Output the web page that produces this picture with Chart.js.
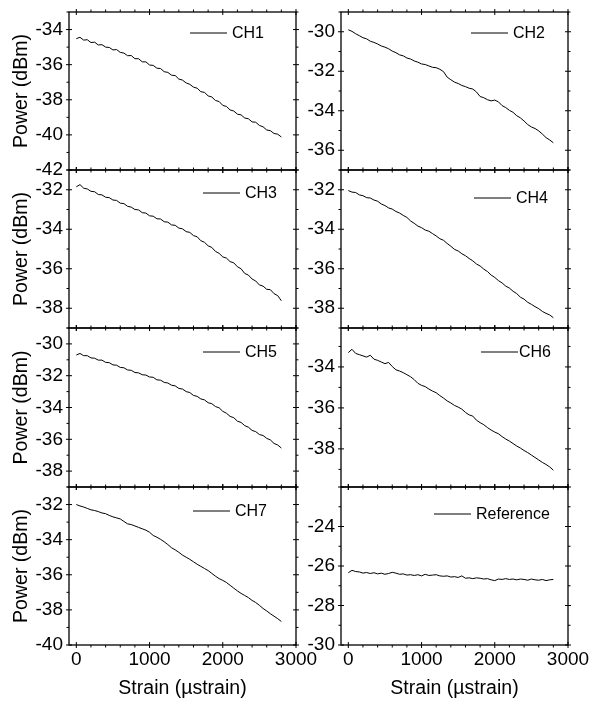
<!DOCTYPE html>
<html>
<head>
<meta charset="utf-8">
<script src="https://cdn.jsdelivr.net/npm/chart.js@4"></script>
<style>
  body { margin: 0; background: #fff; }
  #wrap { position: relative; width: 589px; height: 705px; overflow: hidden; }
  canvas { position: absolute; }
</style>
</head>
<body>
<div id="wrap"></div>
<script>
// strain in microstrain
const strain = [0,50,100,150,200,250,300,350,400,450,500,550,600,650,700,750,800,850,900,950,
  1000,1050,1100,1150,1200,1250,1300,1350,1400,1450,1500,1550,1600,1650,1700,1750,1800,1850,1900,1950,
  2000,2050,2100,2150,2200,2250,2300,2350,2400,2450,2500,2550,2600,2650,2700,2750,2800];

const ch1 = [-34.52,-34.44,-34.60,-34.58,-34.74,-34.72,-34.88,-34.86,-35.00,-35.02,-35.16,-35.14,-35.30,-35.34,-35.49,-35.48,-35.66,-35.66,-35.84,-35.84,
  -36.02,-36.04,-36.20,-36.22,-36.40,-36.44,-36.60,-36.62,-36.82,-36.88,-37.04,-37.12,-37.28,-37.34,-37.54,-37.58,-37.78,-37.84,-38.04,-38.10,
  -38.32,-38.38,-38.58,-38.64,-38.82,-38.86,-39.04,-39.08,-39.26,-39.28,-39.46,-39.54,-39.72,-39.76,-39.92,-39.96,-40.12];
const ch2 = [-29.90,-29.98,-30.10,-30.20,-30.30,-30.36,-30.48,-30.54,-30.62,-30.72,-30.78,-30.86,-30.98,-31.06,-31.17,-31.22,-31.33,-31.38,-31.48,-31.54,
  -31.63,-31.66,-31.73,-31.80,-31.82,-31.90,-32.02,-32.30,-32.43,-32.55,-32.62,-32.72,-32.78,-32.86,-32.90,-33.05,-33.28,-33.34,-33.44,-33.50,
  -33.46,-33.55,-33.74,-33.84,-33.98,-34.08,-34.25,-34.36,-34.52,-34.70,-34.82,-34.90,-35.02,-35.18,-35.36,-35.48,-35.62];
const ch3 = [-31.85,-31.74,-31.92,-31.96,-32.08,-32.10,-32.24,-32.26,-32.38,-32.40,-32.52,-32.54,-32.68,-32.70,-32.84,-32.88,-33.00,-33.02,-33.16,-33.18,
  -33.32,-33.34,-33.47,-33.48,-33.62,-33.64,-33.78,-33.80,-33.94,-33.98,-34.12,-34.16,-34.32,-34.38,-34.58,-34.66,-34.84,-34.92,-35.12,-35.22,
  -35.40,-35.46,-35.64,-35.70,-35.90,-36.00,-36.24,-36.32,-36.52,-36.62,-36.82,-36.88,-37.04,-37.06,-37.26,-37.36,-37.62];
const ch4 = [-32.04,-32.12,-32.14,-32.26,-32.30,-32.40,-32.42,-32.52,-32.58,-32.72,-32.80,-32.92,-32.98,-33.10,-33.18,-33.30,-33.40,-33.58,-33.70,-33.84,
  -33.92,-34.04,-34.10,-34.22,-34.34,-34.48,-34.56,-34.72,-34.86,-35.02,-35.10,-35.24,-35.34,-35.48,-35.60,-35.76,-35.86,-36.02,-36.14,-36.32,
  -36.44,-36.60,-36.72,-36.88,-36.98,-37.14,-37.26,-37.44,-37.54,-37.70,-37.80,-37.92,-38.02,-38.16,-38.26,-38.34,-38.48];
const ch5 = [-30.70,-30.60,-30.74,-30.74,-30.88,-30.90,-31.02,-31.02,-31.16,-31.18,-31.32,-31.34,-31.48,-31.50,-31.64,-31.66,-31.80,-31.82,-31.94,-31.96,
  -32.08,-32.10,-32.26,-32.28,-32.42,-32.46,-32.60,-32.64,-32.80,-32.84,-33.00,-33.06,-33.24,-33.30,-33.46,-33.52,-33.70,-33.76,-33.94,-34.02,
  -34.24,-34.36,-34.56,-34.64,-34.86,-34.94,-35.14,-35.24,-35.44,-35.52,-35.70,-35.76,-35.94,-36.04,-36.26,-36.36,-36.55];
const ch6 = [-33.30,-33.14,-33.34,-33.40,-33.46,-33.52,-33.43,-33.62,-33.68,-33.76,-33.84,-33.78,-33.98,-34.14,-34.20,-34.28,-34.38,-34.48,-34.62,-34.80,
  -34.90,-34.96,-35.08,-35.18,-35.26,-35.40,-35.52,-35.66,-35.76,-35.88,-35.96,-36.06,-36.22,-36.34,-36.40,-36.60,-36.72,-36.82,-36.96,-37.08,
  -37.18,-37.26,-37.40,-37.52,-37.62,-37.74,-37.86,-37.96,-38.08,-38.18,-38.30,-38.42,-38.54,-38.66,-38.76,-38.88,-39.04];
const ch7 = [-32.00,-32.08,-32.14,-32.22,-32.30,-32.34,-32.40,-32.48,-32.52,-32.62,-32.70,-32.76,-32.82,-32.96,-33.10,-33.14,-33.22,-33.30,-33.38,-33.46,
  -33.58,-33.76,-33.86,-33.98,-34.12,-34.28,-34.46,-34.58,-34.72,-34.88,-35.00,-35.12,-35.26,-35.40,-35.52,-35.64,-35.76,-35.92,-36.08,-36.22,
  -36.32,-36.44,-36.60,-36.76,-36.92,-37.06,-37.18,-37.30,-37.46,-37.58,-37.74,-37.92,-38.06,-38.22,-38.36,-38.50,-38.66];
const reference = [-26.34,-26.22,-26.28,-26.30,-26.36,-26.33,-26.38,-26.34,-26.40,-26.36,-26.42,-26.38,-26.32,-26.36,-26.42,-26.40,-26.46,-26.44,-26.48,-26.44,
  -26.50,-26.42,-26.48,-26.46,-26.44,-26.50,-26.52,-26.50,-26.56,-26.54,-26.58,-26.50,-26.62,-26.60,-26.64,-26.60,-26.62,-26.66,-26.64,-26.70,
  -26.74,-26.66,-26.68,-26.64,-26.68,-26.66,-26.70,-26.66,-26.68,-26.72,-26.66,-26.70,-26.72,-26.68,-26.74,-26.70,-26.68];

const xTicks = [0, 1000, 2000, 3000];
const xMinorStep = 200;

// one entry per panel: label, series, y range, labelled y ticks
const panels = [
  { label: 'CH1', data: ch1, yMin: -42, yMax: -33, yTicks: [-42, -40, -38, -36, -34] },
  { label: 'CH2', data: ch2, yMin: -37, yMax: -29, yTicks: [-36, -34, -32, -30] },
  { label: 'CH3', data: ch3, yMin: -39, yMax: -31, yTicks: [-38, -36, -34, -32] },
  { label: 'CH4', data: ch4, yMin: -39, yMax: -31, yTicks: [-38, -36, -34, -32] },
  { label: 'CH5', data: ch5, yMin: -39, yMax: -29, yTicks: [-38, -36, -34, -32, -30] },
  { label: 'CH6', data: ch6, yMin: -39.86, yMax: -32.1, yTicks: [-38, -36, -34] },
  { label: 'CH7', data: ch7, yMin: -40, yMax: -31, yTicks: [-40, -38, -36, -34, -32] },
  { label: 'Reference', data: reference, yMin: -30, yMax: -22, yTicks: [-30, -28, -26, -24] }
];

// legend line position relative to plot area, and gap to text
const legendPos = [
  { dx: 121, dy: 21, gap: 5 }, { dx: 130, dy: 21, gap: 5 },
  { dx: 134, dy: 23, gap: 5 }, { dx: 133, dy: 28, gap: 5 },
  { dx: 134, dy: 24, gap: 5 }, { dx: 140, dy: 24, gap: 1 },
  { dx: 124, dy: 24, gap: 5 }, { dx: 93, dy: 27, gap: 5 }
];

const FONT = "'Liberation Sans', Arial, sans-serif";
Chart.defaults.font.family = FONT;
Chart.defaults.color = '#000';

const colGeom = [
  { left: 0, width: 325, axisW: 69, padR: 29 },
  { left: 300, width: 289, axisW: 41, padR: 21 }
];
const plotTop = [12, 170, 328, 487];
const plotBottom = [170, 328, 487, 645];

// box frame, in/out ticks on all four sides, and the small legend
const frameTicks = {
  id: 'frameTicks',
  afterDraw(chart) {
    const { ctx, chartArea: a, scales: { x, y } } = chart;
    const p = chart.options.plugins.frameTicks;
    ctx.save();
    ctx.strokeStyle = '#000';
    ctx.lineWidth = 1.3;
    ctx.strokeRect(a.left, a.top, a.right - a.left, a.bottom - a.top);
    ctx.lineWidth = 1;
    ctx.beginPath();
    for (const v of xTicks) {
      const px = x.getPixelForValue(v);
      ctx.moveTo(px, a.bottom - 3); ctx.lineTo(px, a.bottom + 3);
      ctx.moveTo(px, a.top - 3); ctx.lineTo(px, a.top + 3);
    }
    for (let v = xMinorStep; v < 3000; v += xMinorStep) {
      if (v % 1000 === 0) continue;
      const px = x.getPixelForValue(v);
      ctx.moveTo(px, a.bottom); ctx.lineTo(px, a.bottom + 2.5);
      ctx.moveTo(px, a.top); ctx.lineTo(px, a.top - 2.5);
    }
    for (let v = Math.ceil(p.yMin); v <= Math.floor(p.yMax); v++) {
      const py = y.getPixelForValue(v);
      if (v % 2 === 0) {
        ctx.moveTo(a.left - 3, py); ctx.lineTo(a.left + 3, py);
        ctx.moveTo(a.right - 3, py); ctx.lineTo(a.right + 3, py);
      } else {
        ctx.moveTo(a.left - 2.5, py); ctx.lineTo(a.left, py);
        ctx.moveTo(a.right, py); ctx.lineTo(a.right + 2.5, py);
      }
    }
    ctx.stroke();
    // legend
    const lg = p.legend;
    const lx = a.left + lg.dx, ly = a.top + lg.dy;
    ctx.beginPath();
    ctx.moveTo(lx, ly); ctx.lineTo(lx + 37, ly);
    ctx.stroke();
    ctx.fillStyle = '#000';
    ctx.font = '16px ' + FONT;
    ctx.textBaseline = 'middle';
    ctx.fillText(p.label, lx + 37 + lg.gap, ly + 1);
    ctx.restore();
  }
};

const wrap = document.getElementById('wrap');
// right column first so the left column canvases sit on top
const order = [1, 3, 5, 7, 0, 2, 4, 6];
order.forEach(i => {
  const p = panels[i];
  const col = i % 2, row = Math.floor(i / 2);
  const g = colGeom[col];
  const last = row === 3;
  const top = plotTop[row] - 12;
  const height = last ? 705 - top : plotBottom[row] - plotTop[row] + 24;
  const cv = document.createElement('canvas');
  cv.width = g.width; cv.height = height;
  cv.style.left = g.left + 'px'; cv.style.top = top + 'px';
  cv.style.zIndex = col === 0 ? 2 : 1;
  wrap.appendChild(cv);

  new Chart(cv, {
    type: 'line',
    data: {
      datasets: [{
        label: p.label,
        data: strain.map((s, k) => ({ x: s, y: p.data[k] })),
        borderColor: '#000',
        borderWidth: 1,
        pointRadius: 0,
        tension: 0
      }]
    },
    options: {
      responsive: false,
      animation: false,
      layout: { padding: { top: 12, bottom: last ? 0 : 12, left: 0, right: g.padR } },
      plugins: {
        legend: { display: false },
        tooltip: { enabled: false },
        frameTicks: { yMin: p.yMin, yMax: p.yMax, label: p.label, legend: legendPos[i] }
      },
      scales: {
        x: {
          type: 'linear',
          min: -100, max: 3000,
          display: last,
          grid: { display: false, drawTicks: false },
          border: { display: false },
          afterBuildTicks: s => { s.ticks = xTicks.map(v => ({ value: v })); },
          afterFit: s => { s.height = last ? 60 : 0; s.paddingLeft = 0; s.paddingRight = 0; },
          ticks: { font: { size: 19 }, padding: 3, maxRotation: 0, autoSkip: false, callback: v => String(v) },
          title: { display: last, text: 'Strain (µstrain)', font: { size: 19.5 }, padding: { top: 0, bottom: 5 } }
        },
        y: {
          min: p.yMin, max: p.yMax,
          grid: { display: false, drawTicks: false },
          border: { display: false },
          afterBuildTicks: s => { s.ticks = p.yTicks.map(v => ({ value: v })); },
          afterFit: s => { s.width = g.axisW; s.paddingTop = 0; s.paddingBottom = 0; },
          ticks: { font: { size: 19 }, padding: 6, callback: v => String(v) },
          title: { display: col === 0, text: 'Power (dBm)', font: { size: 19.5 }, padding: { top: 10, bottom: 0 } }
        }
      }
    },
    plugins: [frameTicks]
  });
});
</script>
</body>
</html>
